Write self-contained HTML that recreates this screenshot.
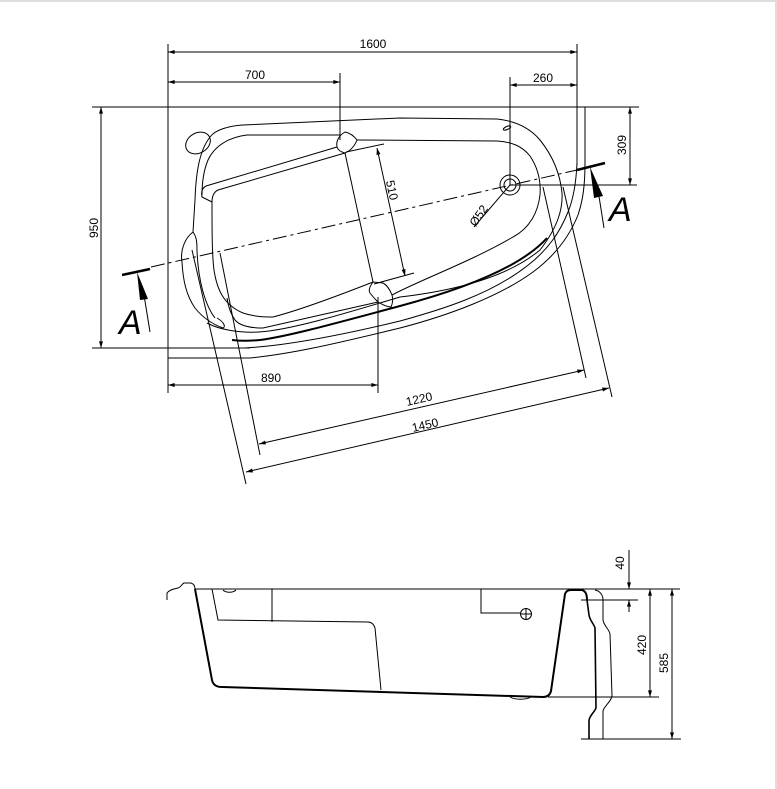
<!DOCTYPE html>
<html><head><meta charset="utf-8"><style>
html,body{margin:0;padding:0;background:#fff;}
svg{display:block;}
text{font-family:"Liberation Sans",sans-serif;fill:#000;}
</style></head><body>
<svg width="777" height="789" viewBox="0 0 777 789" xmlns="http://www.w3.org/2000/svg">
<defs>
<marker id="ar" viewBox="0 0 10 6" refX="10" refY="3" markerWidth="7" markerHeight="4" orient="auto-start-reverse" markerUnits="userSpaceOnUse"><path d="M0,0 L10,3 L0,6 Z" fill="#000"/></marker>
</defs>
<rect x="0" y="0" width="777" height="2" fill="#ddd"/>
<rect x="775" y="0" width="2" height="789" fill="#ddd"/>
<g fill="none" stroke="#000" stroke-width="1">
<line x1="168" y1="44" x2="168" y2="393"/>
<line x1="577" y1="44" x2="577" y2="165"/>
<line x1="585" y1="107" x2="585" y2="165"/>
<line x1="92" y1="107" x2="639" y2="107"/>
<line x1="92" y1="348" x2="250" y2="348"/>
<line x1="168" y1="358" x2="250" y2="358"/>
<line x1="340" y1="73" x2="340" y2="140"/>
<line x1="510" y1="77" x2="510" y2="185"/>
<line x1="510" y1="185" x2="637" y2="185"/>
<line x1="378" y1="297" x2="378" y2="393"/>
<line x1="168" y1="52" x2="577" y2="52" marker-start="url(#ar)" marker-end="url(#ar)"/>
<line x1="168" y1="82" x2="340" y2="82" marker-start="url(#ar)" marker-end="url(#ar)"/>
<line x1="510" y1="85" x2="577" y2="85" marker-start="url(#ar)" marker-end="url(#ar)"/>
<line x1="630" y1="107" x2="630" y2="185" marker-start="url(#ar)" marker-end="url(#ar)"/>
<line x1="101" y1="107" x2="101" y2="348" marker-start="url(#ar)" marker-end="url(#ar)"/>
<line x1="168" y1="385" x2="378" y2="385" marker-start="url(#ar)" marker-end="url(#ar)"/>
<line x1="346" y1="152" x2="384" y2="144"/>
<line x1="374" y1="284" x2="414" y2="273"/>
<line x1="377" y1="148" x2="405" y2="276" marker-start="url(#ar)" marker-end="url(#ar)"/>
<line x1="220" y1="253" x2="260" y2="455"/>
<line x1="543" y1="187" x2="586" y2="378"/>
<line x1="259" y1="444" x2="584" y2="370" marker-start="url(#ar)" marker-end="url(#ar)"/>
<line x1="192" y1="250" x2="246" y2="484"/>
<line x1="563" y1="187" x2="612" y2="397"/>
<line x1="246" y1="472" x2="609" y2="388" marker-start="url(#ar)" marker-end="url(#ar)"/>
<line x1="151" y1="267" x2="577" y2="170" stroke-dasharray="14,4,3,4"/>
<line x1="122" y1="275" x2="150" y2="269" stroke-width="2.5"/>
<line x1="577" y1="170" x2="605" y2="163" stroke-width="2.5"/>
<line x1="144" y1="295" x2="150" y2="332"/>
<line x1="598" y1="190" x2="604" y2="228"/>
<line x1="510" y1="185" x2="474" y2="227"/>
<path d="M210,137 C215,130 228,126 243,125 L400,118 L497,119 C515,121 530,128 540,140 C552,155 560,172 562,193 C563,210 557,228 540,250 C510,275 460,290 400,297 C340,315 290,330 259,332 C240,333 220,330 207,323"/>
<path d="M210,137 C200,150 196,170 195,200 L193,232"/>
<ellipse cx="198" cy="143" rx="13" ry="10" transform="rotate(-30 198 143)"/>
<path d="M193,232 C185,238 180,250 182,262 C183,280 186,295 195,308 C203,318 212,324 223,328 C226,327 224,322 217,318"/>
<path d="M193,232 C196,236 197,240 197,250 C198,280 205,305 215,318"/>
<path d="M340,135 L247,135 C230,137 215,145 208,160 C203,172 202,185 202,195"/>
<path d="M337,147 L206,186 C202,188 201,192 202,197 L212,202"/>
<path d="M345,153 L218,190 C214,192 212,196 212,202"/>
<path d="M337,147 C336,142 338,136 345,132 C350,133 354,136 357,140 C355,145 352,150 345,153 C341,152 338,150 337,147 Z"/>
<path d="M357,140 L497,141 C512,142 522,146 530,156 C538,168 541,182 540,195 C538,212 530,228 513,237 C470,262 420,280 392,295"/>
<line x1="345" y1="153" x2="373" y2="282"/>
<path d="M212,202 C212,230 212,255 214,270 C217,290 224,305 243,313 C255,317 265,317 273,317 C300,310 340,295 373,282"/>
<path d="M373,282 C370,286 368,290 370,293 C373,297 376,300 378,302 C383,305 387,307 391,307 C393,303 393,298 392,295 C390,290 387,285 383,283 Z"/>
<path d="M378,302 L263,328 C250,328 240,326 235,320 C230,313 228,305 227,298"/>
<path d="M547,238 C520,268 460,290 400,306 C340,322 290,336 260,340 C250,341 240,341 232,340" stroke-width="2"/>
<path d="M577,163 C576,185 573,200 568,212 C560,232 548,250 527,266 C490,295 440,310 400,321 C330,338 280,346 245,348"/>
<path d="M585,163 C585,185 583,200 578,215 C570,235 556,255 533,272 C500,296 450,315 400,328 C330,345 290,354 250,358"/>
<ellipse cx="507" cy="128" rx="4" ry="1.5" transform="rotate(-25 507 128)"/>
<circle cx="510" cy="185" r="10"/>
<circle cx="510" cy="185" r="6"/>
</g>
<path d="M137,272 L140,300 L148,299 Z" fill="#000"/>
<path d="M590,167 L594,198 L603,196 Z" fill="#000"/>
<text x="119" y="334" font-size="34" font-style="italic">A</text>
<text x="609" y="221" font-size="34" font-style="italic">A</text>
<text x="373" y="48" font-size="12" text-anchor="middle">1600</text>
<text x="255" y="79" font-size="12" text-anchor="middle">700</text>
<text x="543" y="82" font-size="12" text-anchor="middle">260</text>
<text x="271" y="382" font-size="12" text-anchor="middle">890</text>
<text transform="translate(626,145) rotate(-90)" font-size="12" text-anchor="middle">309</text>
<text transform="translate(98,228) rotate(-90)" font-size="12" text-anchor="middle">950</text>
<text transform="translate(388,191) rotate(78)" font-size="12" text-anchor="middle">510</text>
<text transform="translate(420,403) rotate(-13)" font-size="12" text-anchor="middle">1220</text>
<text transform="translate(426,429) rotate(-13)" font-size="12" text-anchor="middle">1450</text>
<text transform="translate(482,218) rotate(-55)" font-size="12" text-anchor="middle">Ø52</text>

<g fill="none" stroke="#000" stroke-width="1">
<line x1="195" y1="589" x2="680" y2="589"/>
<path d="M167,600 L167,593 C170,589 175,589 178,588 C181,587 182,584 184,583 L191,583 C194,584 195,586 195,589"/>
<path d="M195,589 L212,680 C213,685 217,687 222,687 L543,697 C547,697 550,695 551,691 L565,594 C566,591 568,590 571,590 L582,590 C586,591 587,595 587,600" stroke-width="2"/>
<path d="M212,589 L218,620 L368,622 C372,622 374,625 375,628 L381,690"/>
<line x1="272" y1="589" x2="272" y2="622"/>
<path d="M223,590 C226,593 233,593 236,590"/>
<path d="M481,589 L481,613 L520,613"/>
<circle cx="526" cy="614" r="5.5"/>
<line x1="520.5" y1="614" x2="531.5" y2="614"/>
<line x1="526" y1="608.5" x2="526" y2="619.5"/>
<path d="M510,697 C515,700 526,700 531,697"/>
<path d="M587,600 L589,615 C590,621 594,624 595,628 L596,708 C594,713 589,716 589,721 L589,739" stroke-width="1.6"/>
<path d="M595,590 C600,591 603,595 603,600 L603,620 C604,626 609,629 610,634 L612,696 C611,702 604,706 603,711 L603,739"/>
<line x1="581" y1="600" x2="638" y2="600"/>
<line x1="548" y1="697" x2="659" y2="697"/>
<line x1="581" y1="739" x2="681" y2="739"/>
<line x1="629" y1="550" x2="629" y2="589" marker-end="url(#ar)"/>
<line x1="629" y1="612" x2="629" y2="600" marker-end="url(#ar)"/>
<line x1="650" y1="589" x2="650" y2="697" marker-start="url(#ar)" marker-end="url(#ar)"/>
<line x1="672" y1="589" x2="672" y2="739" marker-start="url(#ar)" marker-end="url(#ar)"/>
</g>
<text transform="translate(624,563) rotate(-90)" font-size="12" text-anchor="middle">40</text>
<text transform="translate(646,645) rotate(-90)" font-size="12" text-anchor="middle">420</text>
<text transform="translate(668,663) rotate(-90)" font-size="12" text-anchor="middle">585</text>
</svg>
</body></html>
